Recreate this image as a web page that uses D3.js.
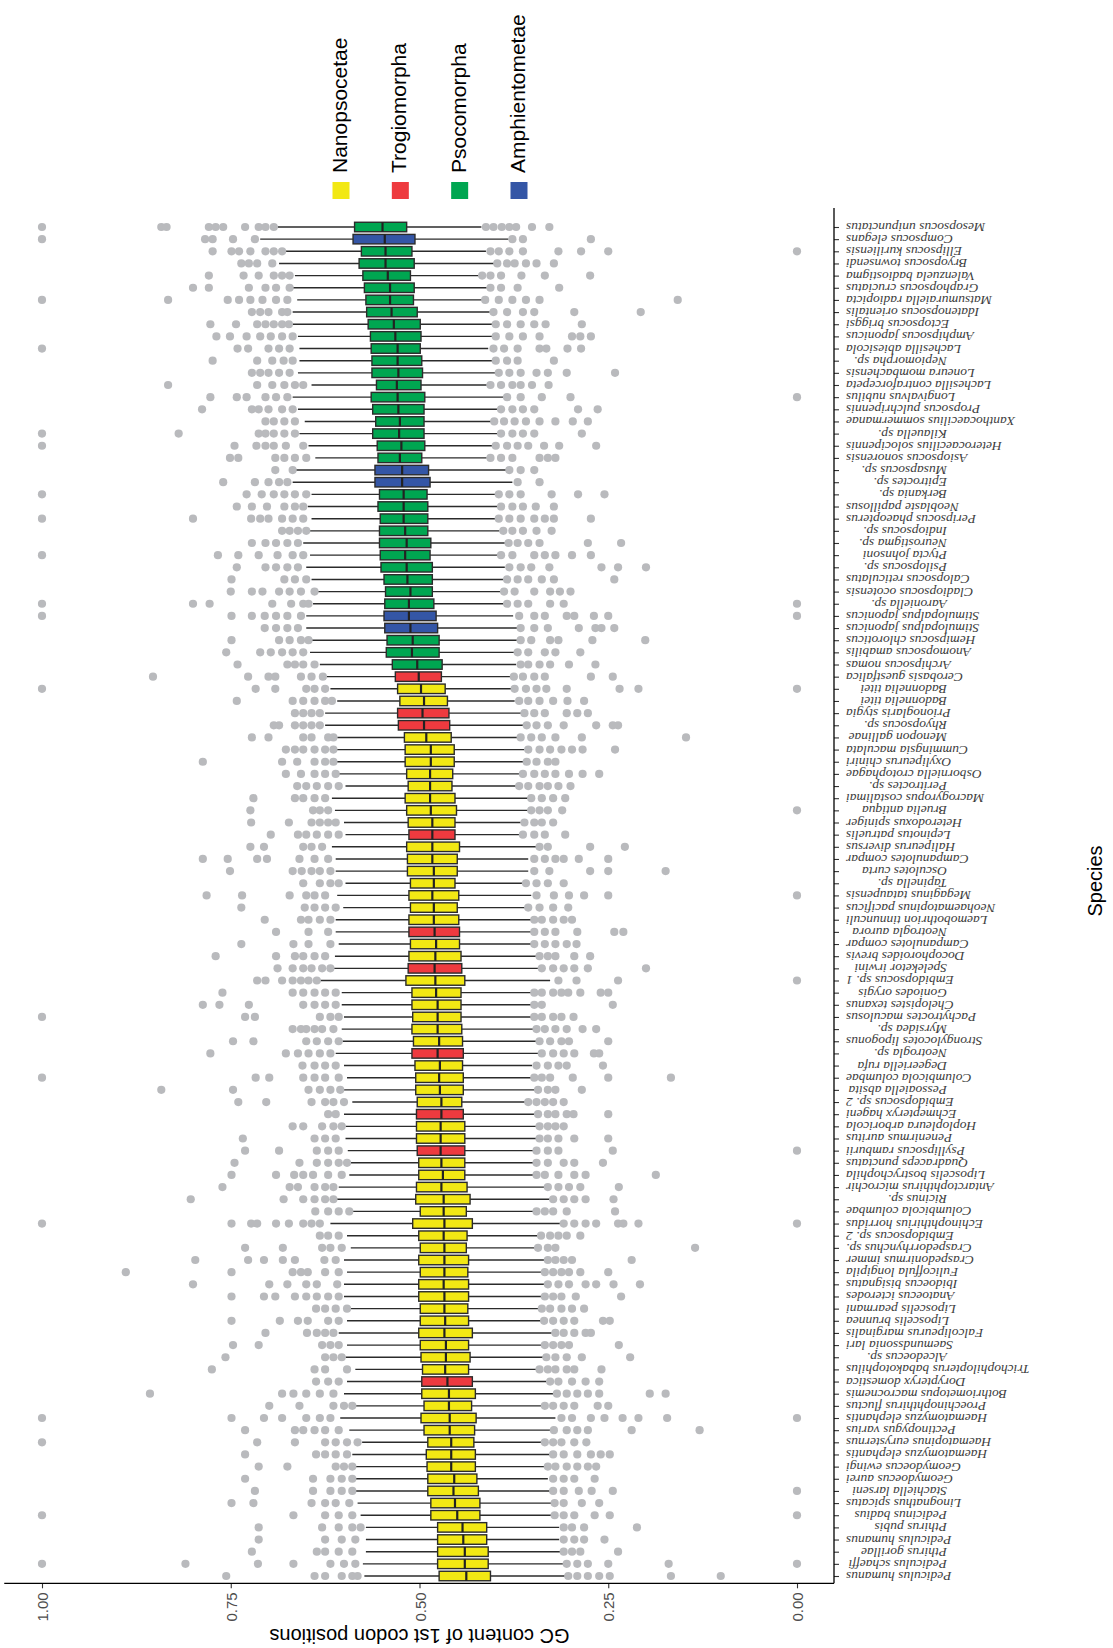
<!DOCTYPE html>
<html>
<head>
<meta charset="utf-8">
<script src="https://cdn.jsdelivr.net/npm/d3@7"></script>
<style>
  body { margin: 0; background: #fff; }
  svg { display: block; }
</style>
</head>
<body>
<div id="chart"></div>
<script>
const WIDTH = 1113, HEIGHT = 1648;

// species, bottom (first) to top (last)
const species = [
  "Pediculus humanus", "Pediculus schaeffi", "Pthirus gorillae", "Pediculus humanus", "Pthirus pubis",
  "Pedicinus badius", "Linognathus spicatus", "Stachiella larseni", "Geomydoecus aurei", "Geomydoecus ewingi",
  "Haematomyzus elephantis", "Haematopinus eurysternus", "Pectinopygus varius", "Haematomyzus elephantis", "Proechinophthirus fluctus",
  "Bothriometopus macrocnemis", "Dorypteryx domestica", "Trichophilopterus babakotophilus", "Alcedoecus sp.", "Saemundssonia lari",
  "Falcolipeurus marginalis", "Liposcelis brunnea", "Liposcelis pearmani", "Anatoecus icterodes", "Ibidoecus bisignatus",
  "Fulicoffula longipila", "Craspedonirmus immer", "Craspedorrhynchus sp.", "Embidopsocus sp. 2", "Echinophthirius horridus",
  "Columbicola columbae", "Ricinus sp.", "Antarctophthirus microchir", "Liposcelis bostrychophila", "Quadraceps punctatus",
  "Psyllipsocus ramburii", "Penenirmus auritus", "Hoplopleura arboricola", "Echmepteryx hageni", "Embidopsocus sp. 2",
  "Pessoaiella absita", "Columbicola columbae", "Degeeriella rufa", "Neotrogla sp.", "Strongylocotes lipogonus",
  "Myrsidea sp.", "Pachytroctes maculosus", "Chelopistes texanus", "Goniodes orygis", "Embidopsocus sp. 1",
  "Speleketor irwini", "Docophoroides brevis", "Campanulotes compar", "Neotrogla aurora", "Laemobothrion tinnunculi",
  "Neohaematopinus pacificus", "Megaginus tataupensis", "Tapinella sp.", "Osculotes curta", "Campanulotes compar",
  "Halipeurus diversus", "Lepinotus patruelis", "Heterodoxus spiniger", "Bruelia antiqua", "Macrogyropus costalimai",
  "Peritroctes sp.", "Osborniella crotophagae", "Oxylipeurus chiniri", "Cummingsia maculata", "Menopon gallinae",
  "Rhyopsocus sp.", "Prionoglaris stygia", "Badonnelia titei", "Badonnelia titei", "Cerobasis guestfalica",
  "Archipsocus nomas", "Anomopsocus amabilis", "Hemipsocus chloroticus", "Stimulopalpus japonicus", "Stimulopalpus japonicus",
  "Aaroniella sp.", "Cladiopsocus ocotensis", "Calopsocus reticulatus", "Psilopsocus sp.", "Ptycta johnsoni",
  "Neurostigma sp.", "Indiopsocus sp.", "Peripsocus phaeopterus", "Neoblaste papillosus", "Berkania sp.",
  "Epitroctes sp.", "Musapsocus sp.", "Asiopsocus sonorensis", "Heterocaecilius solocipennis", "Kilauella sp.",
  "Xanthocaecilius sommermanae", "Propsocus pulchripennis", "Longivalvus nubilus", "Lachesilla contraforcepeta", "Loneura mombachensis",
  "Nepiomorpha sp.", "Lachesilla abiesicola", "Amphipsocus japonicus", "Ectopsocus briggsi", "Idatenopsocus orientalis",
  "Matsumuraiella radiopicta", "Graphopsocus cruciatus", "Valenzuela badiostigma", "Bryopsocus townsendi", "Ellipsocus kuriliensis",
  "Compsocus elegans", "Mesopsocus unipunctatus"
];

// one letter per species: N Nanopsocetae, T Trogiomorpha, P Psocomorpha, A Amphientometae
const groupCode = ("NNNNNNNNNNNNNNNN" + "T" + "NNNNNNNNNNNNNNNNNN" + "T" + "NN" + "T" + "NNNN" + "T" +
  "NNNNNN" + "T" + "NN" + "T" + "NNNNNNN" + "T" + "NNNNNNNN" + "TT" + "NN" + "T" + "PPP" + "AA" +
  "PPPPPPPPPP" + "AA" + "PPPPPPPPPPPPPPPPPP" + "A" + "P").split("");

const groupKeys = ["N", "T", "P", "A"];
const groupNames = ["Nanopsocetae", "Trogiomorpha", "Psocomorpha", "Amphientometae"];
const groupColors = ["#f2e814", "#ee3a3f", "#00a651", "#3456a6"];

const q1 = [
  .406,.409,.409,.411,.411,.420,.420,.422,.424,.426,.426,.428,.427,.425,.431,.426,.430,.435,.433,.435,
  .430,.435,.436,.435,.435,.436,.435,.438,.437,.430,.438,.433,.437,.440,.440,.440,.440,.440,.442,.444,
  .442,.442,.443,.442,.443,.444,.445,.445,.445,.440,.444,.445,.447,.447,.448,.450,.448,.453,.450,.450,
  .447,.453,.453,.451,.453,.457,.456,.454,.454,.458,.460,.461,.463,.466,.471,.470,.474,.474,.476,.478,
  .481,.483,.483,.483,.486,.485,.489,.489,.489,.490,.486,.488,.497,.493,.494,.494,.494,.493,.498,.496,
  .497,.499,.498,.499,.503,.508,.507,.512,.507,.510,.506,.517
];
const median = [
  .438,.440,.440,.442,.443,.450,.453,.455,.454,.458,.458,.458,.460,.460,.461,.461,.463,.466,.465,.465,
  .467,.466,.467,.467,.468,.467,.467,.467,.468,.467,.468,.468,.471,.469,.471,.472,.472,.472,.471,.471,
  .473,.474,.473,.476,.474,.476,.476,.476,.478,.479,.480,.479,.478,.480,.481,.481,.483,.481,.481,.483,
  .483,.483,.483,.485,.486,.486,.486,.485,.485,.491,.494,.496,.494,.498,.501,.503,.510,.509,.512,.514,
  .514,.512,.516,.517,.519,.517,.519,.521,.521,.521,.523,.523,.526,.524,.527,.526,.528,.529,.530,.528,
  .529,.529,.532,.534,.537,.539,.539,.542,.545,.545,.546,.549
];
const q3 = [
  .474,.476,.476,.476,.476,.485,.485,.489,.489,.490,.491,.489,.494,.498,.494,.497,.497,.496,.498,.499,
  .501,.499,.499,.501,.501,.499,.501,.499,.501,.509,.499,.505,.504,.501,.501,.503,.504,.504,.504,.503,
  .505,.505,.506,.510,.508,.510,.509,.510,.510,.518,.515,.514,.512,.514,.514,.512,.514,.512,.516,.516,
  .517,.514,.515,.517,.519,.515,.517,.519,.519,.520,.528,.529,.526,.529,.532,.536,.544,.543,.546,.547,
  .546,.545,.547,.551,.552,.553,.553,.552,.555,.553,.559,.559,.555,.556,.562,.558,.562,.564,.557,.563,
  .563,.564,.565,.568,.570,.571,.573,.575,.580,.577,.588,.586
];
const whiskerLow = [
  .307,.310,.313,.315,.315,.325,.325,.327,.330,.334,.327,.339,.325,.320,.339,.322,.332,.345,.336,.338,
  .325,.339,.341,.338,.334,.338,.334,.346,.343,.314,.348,.327,.334,.348,.348,.348,.345,.345,.346,.359,
  .346,.352,.351,.341,.345,.348,.352,.352,.352,.327,.341,.345,.352,.352,.352,.359,.352,.363,.356,.356,
  .345,.368,.366,.356,.356,.372,.368,.361,.361,.370,.361,.364,.374,.376,.379,.372,.374,.371,.370,.376,
  .388,.392,.389,.387,.394,.387,.394,.399,.394,.399,.377,.384,.411,.402,.395,.404,.395,.389,.411,.399,
  .404,.409,.402,.402,.407,.417,.411,.420,.401,.412,.382,.418
];
const whiskerHigh = [
  .573,.575,.571,.571,.571,.578,.582,.585,.585,.585,.589,.576,.593,.605,.585,.600,.596,.585,.598,.596,
  .607,.596,.593,.600,.600,.596,.600,.591,.596,.618,.589,.611,.607,.593,.593,.595,.598,.598,.600,.589,
  .600,.596,.600,.611,.602,.603,.600,.603,.603,.632,.618,.612,.607,.611,.611,.601,.609,.598,.611,.611,
  .616,.598,.600,.612,.616,.598,.607,.611,.611,.609,.625,.625,.609,.618,.623,.632,.645,.643,.650,.650,
  .641,.636,.643,.650,.645,.654,.647,.643,.648,.643,.668,.665,.638,.647,.659,.652,.661,.668,.643,.661,
  .659,.659,.661,.668,.668,.662,.668,.665,.686,.677,.711,.688
];

const outliers = [
  [.756,.639,.625,.603,.589,.582,.303,.291,.277,.262,.248,.167,.101],
  [1,.810,.714,.667,.618,.600,.585,.305,.291,.277,.250,.170,0],
  [.722,.636,.625,.607,.589,.309,.298,.287,.237],
  [.713,.625,.603,.585,.309,.295,.282,.255],
  [.713,.629,.607,.589,.578,.309,.298,.282,.212],
  [1,.667,.625,.607,.589,.321,.309,.295,.268,.248,0],
  [.749,.720,.643,.625,.611,.593,.321,.309,.285,.262],
  [.718,.641,.618,.603,.589,.323,.309,.289,.272,.244,0],
  [.731,.641,.618,.603,.589,.323,.309,.295,.268],
  [.713,.675,.611,.600,.589,.330,.320,.305,.291,.277,.266],
  [.731,.637,.625,.611,.596,.323,.309,.291,.273,.260,.248],
  [1,.715,.665,.625,.611,.596,.582,.334,.323,.312,.295,.279],
  [.731,.665,.654,.639,.625,.607,.322,.305,.291,.277,.219,.129],
  [1,.749,.706,.682,.650,.632,.618,.312,.298,.273,.255,.231,.210,.172,0],
  [.699,.659,.614,.600,.589,.334,.323,.309,.295,.264,.250],
  [.857,.682,.667,.650,.632,.614,.318,.305,.291,.277,.262,.195,.174],
  [.637,.621,.607,.327,.316,.298,.280,.262],
  [.775,.639,.625,.596,.341,.330,.320,.305,.295,.259],
  [.757,.625,.614,.603,.332,.320,.305,.285,.221],
  [.747,.713,.629,.618,.607,.334,.323,.312,.302,.236],
  [.704,.649,.636,.625,.614,.320,.309,.295,.280,.273],
  [.749,.685,.661,.648,.621,.607,.335,.323,.309,.295,.257,.248],
  [.637,.625,.611,.596,.338,.327,.312,.298,.282],
  [.749,.706,.691,.665,.650,.636,.621,.607,.334,.323,.312,.293,.233],
  [.800,.699,.675,.650,.636,.609,.330,.316,.302,.280,.266,.243,.208],
  [.889,.749,.668,.657,.648,.625,.607,.334,.323,.312,.302,.287,.250],
  [.797,.727,.706,.681,.665,.626,.611,.330,.320,.309,.298,.219],
  [.731,.681,.629,.618,.603,.343,.330,.320,.135],
  [.632,.621,.607,.339,.327,.316,.305,.287],
  [1,.749,.723,.715,.690,.673,.654,.643,.632,.309,.295,.280,.266,.237,.230,.210,0],
  [.638,.621,.607,.593,.345,.334,.323,.305,.241],
  [.803,.680,.654,.639,.625,.614,.323,.309,.295,.280,.243],
  [.761,.672,.661,.639,.625,.614,.330,.316,.302,.287,.236],
  [.749,.690,.666,.654,.641,.621,.603,.345,.334,.316,.295,.280,.187],
  [.745,.659,.636,.621,.607,.596,.345,.330,.309,.295,.257],
  [.731,.686,.636,.621,.607,.345,.330,.316,.244,0],
  [.734,.639,.625,.611,.341,.330,.316,.295,.250],
  [.668,.654,.629,.614,.603,.341,.330,.320,.309],
  [.621,.611,.343,.330,.320,.305,.296,.250],
  [.740,.703,.643,.625,.614,.600,.356,.345,.334,.323,.309],
  [.842,.747,.647,.632,.618,.605,.343,.330,.320,.285],
  [1,.717,.699,.654,.639,.625,.607,.348,.338,.327,.297,.250,.167],
  [.655,.639,.625,.611,.345,.330,.316,.305,.257],
  [.777,.677,.661,.647,.632,.618,.338,.323,.309,.295,.269,.262],
  [.747,.720,.650,.636,.621,.607,.341,.327,.312,.302,.250],
  [.668,.657,.650,.639,.629,.614,.345,.334,.320,.305,.284,.266],
  [1,.731,.718,.632,.618,.607,.348,.338,.323,.312,.296],
  [.787,.765,.726,.654,.639,.625,.611,.348,.338,.244],
  [.761,.668,.654,.639,.625,.611,.348,.338,.323,.312,.303,.287,.260,.250],
  [.715,.704,.682,.668,.657,.647,.636,.316,.292,.237,0],
  [.688,.668,.654,.643,.629,.618,.338,.323,.309,.295,.277,.200],
  [.770,.690,.665,.654,.639,.625,.341,.330,.320,.295,.274],
  [.736,.667,.647,.618,.348,.334,.320,.305,.292],
  [.690,.647,.621,.348,.334,.320,.291,.242,.230],
  [.705,.657,.647,.632,.618,.348,.338,.323,.309,.298],
  [.736,.652,.639,.625,.611,.356,.341,.323,.303],
  [.782,.735,.672,.650,.639,.625,.345,.322,.302,.282,.250,0],
  [.654,.632,.618,.607,.359,.345,.330,.309],
  [.751,.668,.656,.643,.632,.618,.348,.328,.274,.250,.174],
  [.787,.754,.715,.702,.659,.639,.621,.348,.334,.320,.309,.289,.250],
  [.724,.706,.654,.643,.629,.341,.330,.274,.228],
  [.697,.661,.650,.636,.621,.607,.363,.348,.334,.307],
  [.723,.673,.643,.632,.621,.611,.361,.348,.338,.323],
  [.724,.641,.632,.621,.352,.341,.330,.311,0],
  [.720,.665,.654,.639,.625,.352,.338,.323,.307],
  [.662,.650,.636,.621,.607,.368,.356,.341,.330,.316,.300],
  [.677,.657,.639,.625,.611,.363,.348,.334,.320,.302,.284,.262],
  [.787,.682,.662,.639,.625,.614,.358,.345,.330,.320],
  [.677,.665,.654,.639,.625,.614,.356,.341,.327,.312,.298,.284,.241],
  [.722,.700,.654,.643,.621,.614,.366,.352,.338,.320,.285,.147],
  [.693,.686,.665,.654,.643,.632,.358,.345,.330,.309,.266,.244,.237],
  [.665,.654,.643,.632,.361,.348,.334,.305,.291,.277],
  [.742,.668,.654,.639,.625,.616,.368,.356,.341,.323,.304,.282],
  [1,.717,.691,.650,.639,.625,.374,.359,.345,.332,.305,.235,.210,0],
  [.853,.727,.700,.691,.657,.643,.628,.375,.363,.348,.334,.273,.244],
  [.741,.675,.665,.654,.639,.366,.356,.341,.327,.302,.267],
  [.756,.711,.697,.682,.668,.654,.370,.356,.334,.320,.287],
  [.749,.686,.672,.657,.647,.366,.352,.327,.316,.271,.201],
  [.705,.690,.675,.661,.366,.348,.330,.289,.267,.259,.242],
  [1,.749,.722,.705,.690,.675,.657,.368,.348,.334,.305,.295,.269,.250,0],
  [1,.800,.778,.695,.670,.654,.647,.384,.370,.356,.327,.309,0],
  [.750,.722,.708,.686,.672,.657,.639,.388,.374,.348,.327,.314,.300],
  [.749,.679,.665,.650,.384,.370,.356,.338,.322,.242],
  [.742,.704,.690,.675,.661,.381,.366,.352,.328,.259,.237,.200],
  [1,.767,.740,.713,.688,.668,.654,.392,.377,.348,.334,.320,.298,.273],
  [.722,.704,.690,.675,.661,.382,.370,.356,.341,.277,.233],
  [.682,.672,.661,.650,.389,.377,.363,.345,.325],
  [1,.800,.723,.711,.700,.682,.668,.654,.395,.381,.366,.348,.334,.322,.273],
  [.742,.722,.702,.679,.665,.654,.392,.377,.363,.346,.322],
  [1,.729,.709,.693,.679,.665,.650,.395,.381,.366,.325,.290,.255],
  [.760,.718,.700,.686,.675,.370,.341],
  [.691,.668,.381,.366,.348],
  [.751,.740,.691,.679,.665,.650,.406,.392,.377,.341,.330,.320],
  [1,.745,.716,.704,.693,.677,.654,.399,.384,.370,.356,.335,.315,.266],
  [1,.819,.713,.704,.693,.679,.665,.392,.377,.363,.348,.285],
  [.704,.693,.679,.665,.401,.388,.374,.359,.341,.320,.297,.277],
  [.788,.722,.713,.700,.682,.668,.392,.377,.363,.348,.290,.264],
  [.777,.742,.729,.704,.690,.675,.384,.366,.338,.300,0],
  [.833,.715,.695,.679,.665,.654,.406,.392,.377,.366,.351,.329],
  [.722,.711,.700,.686,.672,.395,.381,.366,.345,.330,.305,.241],
  [.774,.715,.695,.680,.668,.399,.384,.370,.322],
  [1,.741,.727,.700,.686,.672,.402,.388,.370,.341,.332,.304,.286],
  [.769,.751,.729,.711,.697,.682,.668,.399,.381,.363,.341,.298,.287,.273],
  [.777,.743,.715,.704,.693,.682,.673,.399,.384,.366,.348,.333,.285],
  [.722,.711,.700,.682,.675,.402,.384,.363,.348,.295,.207],
  [1,.833,.754,.739,.724,.708,.690,.675,.413,.395,.377,.359,.341,.158],
  [.800,.779,.726,.704,.690,.672,.406,.392,.370,.315],
  [.779,.733,.713,.693,.682,.672,.417,.406,.392,.365,.334,.274],
  [.736,.726,.715,.695,.397,.384,.374,.359,.345,.322],
  [.774,.749,.739,.724,.704,.693,.682,.406,.395,.381,.363,.316,.286,.250,0],
  [1,.784,.774,.747,.718,.377,.363,.273],
  [1,.842,.835,.779,.770,.760,.731,.713,.704,.693,.412,.402,.391,.381,.372,.351,.328]
];

const gcTicks = [0, 0.25, 0.5, 0.75, 1];

// layout
const PANEL_TOP = 208;
const AXIS_X = 834;
const SANS = "'Liberation Sans', Arial, Helvetica, sans-serif";

const svg = d3.select("#chart")
  .append("svg")
  .attr("width", WIDTH)
  .attr("height", HEIGHT)
  .attr("viewBox", `0 0 ${WIDTH} ${HEIGHT}`);

const x = d3.scaleLinear().domain([0, 1]).range([797, 42]);
const y = d3.scalePoint().domain(d3.range(species.length)).range([1576, 227]);
const color = d3.scaleOrdinal().domain(groupKeys).range(groupColors);
const panelBottom = y(0) + 0.6 * y.step();
const boxH = y.step() * 0.78;

const rows = species.map((name, i) => ({
  i, name, group: groupCode[i],
  q1: q1[i], med: median[i], q3: q3[i], lo: whiskerLow[i], hi: whiskerHigh[i],
  out: outliers[i]
}));

// whiskers
svg.append("g").selectAll("line.wh-hi")
  .data(rows)
  .join("line")
  .attr("x1", d => x(d.q3)).attr("x2", d => x(d.hi))
  .attr("y1", d => y(d.i)).attr("y2", d => y(d.i))
  .attr("stroke", "#2b2b2b").attr("stroke-width", 1.4);

svg.append("g").selectAll("line.wh-lo")
  .data(rows)
  .join("line")
  .attr("x1", d => x(d.q1)).attr("x2", d => x(d.lo))
  .attr("y1", d => y(d.i)).attr("y2", d => y(d.i))
  .attr("stroke", "#2b2b2b").attr("stroke-width", 1.4);

// outliers
svg.append("g").selectAll("circle")
  .data(rows.flatMap(d => d.out.map(v => ({ i: d.i, v }))))
  .join("circle")
  .attr("cx", d => x(d.v))
  .attr("cy", d => y(d.i))
  .attr("r", 4.1)
  .attr("fill", "#b9babd");

// boxes
svg.append("g").selectAll("rect")
  .data(rows)
  .join("rect")
  .attr("x", d => x(d.q3))
  .attr("y", d => y(d.i) - boxH / 2)
  .attr("width", d => x(d.q1) - x(d.q3))
  .attr("height", boxH)
  .attr("fill", d => color(d.group))
  .attr("stroke", "#2b2b2b")
  .attr("stroke-width", 1.4);

// medians
svg.append("g").selectAll("line")
  .data(rows)
  .join("line")
  .attr("x1", d => x(d.med)).attr("x2", d => x(d.med))
  .attr("y1", d => y(d.i) - boxH / 2).attr("y2", d => y(d.i) + boxH / 2)
  .attr("stroke", "#222").attr("stroke-width", 2.2);

// species axis (right)
const yAxis = svg.append("g")
  .attr("transform", `translate(${AXIS_X},0)`)
  .call(d3.axisRight(y).tickSize(5).tickSizeOuter(0).tickFormat(i => species[i]));
yAxis.select(".domain").remove();
yAxis.selectAll(".tick line").attr("stroke", "#333").attr("stroke-width", 1.1);
yAxis.selectAll(".tick text")
  .attr("x", null).attr("dy", null)
  .attr("dominant-baseline", "central")
  .attr("text-anchor", "start")
  .style("font-family", "'Liberation Serif', 'Times New Roman', serif")
  .style("font-style", "italic")
  .style("font-size", "13.5px")
  .attr("fill", "#3d3d3d")
  .each(function () {
    const w = this.getComputedTextLength();
    const xs = Math.max(113, 12 + w);
    d3.select(this).attr("transform", `translate(${xs},0) rotate(180)`);
  });

// GC axis (bottom)
const xAxis = svg.append("g")
  .attr("transform", `translate(0,${panelBottom})`)
  .call(d3.axisBottom(x).tickValues(gcTicks).tickFormat(d3.format(".2f")).tickSize(5).tickSizeOuter(0));
xAxis.select(".domain").remove();
xAxis.selectAll(".tick line").attr("stroke", "#333").attr("stroke-width", 1.1);
xAxis.selectAll(".tick text")
  .attr("y", null).attr("dy", null)
  .attr("text-anchor", "end")
  .attr("dominant-baseline", "central")
  .attr("transform", "translate(0,9) rotate(-90)")
  .style("font-family", SANS)
  .style("font-size", "15px")
  .attr("fill", "#4d4d4d");

// axis lines
svg.append("line")
  .attr("x1", x(1.05)).attr("x2", AXIS_X)
  .attr("y1", panelBottom).attr("y2", panelBottom)
  .attr("stroke", "#000").attr("stroke-width", 1.3);
svg.append("line")
  .attr("x1", AXIS_X).attr("x2", AXIS_X)
  .attr("y1", PANEL_TOP).attr("y2", panelBottom)
  .attr("stroke", "#000").attr("stroke-width", 1.3);

// axis titles
svg.append("text")
  .attr("transform", `translate(${x(0.5)},1629) rotate(180)`)
  .attr("text-anchor", "middle")
  .style("font-family", SANS)
  .style("font-size", "20px")
  .text("GC content of 1st codon positions");

svg.append("text")
  .attr("transform", "translate(1102,881) rotate(-90)")
  .attr("text-anchor", "middle")
  .style("font-family", SANS)
  .style("font-size", "20px")
  .text("Species");

// legend
const lx = d3.scalePoint().domain(groupKeys).range([341, 519]);
const legend = svg.append("g").attr("class", "legend");

legend.selectAll("rect")
  .data(groupKeys)
  .join("rect")
  .attr("x", d => lx(d) - 8.5)
  .attr("y", 182)
  .attr("width", 17)
  .attr("height", 17)
  .attr("fill", d => color(d));

legend.selectAll("text")
  .data(groupKeys)
  .join("text")
  .attr("transform", d => `translate(${lx(d) + 6},173) rotate(-90)`)
  .attr("text-anchor", "start")
  .style("font-family", SANS)
  .style("font-size", "21px")
  .text((d, k) => groupNames[k]);
</script>
</body>
</html>
